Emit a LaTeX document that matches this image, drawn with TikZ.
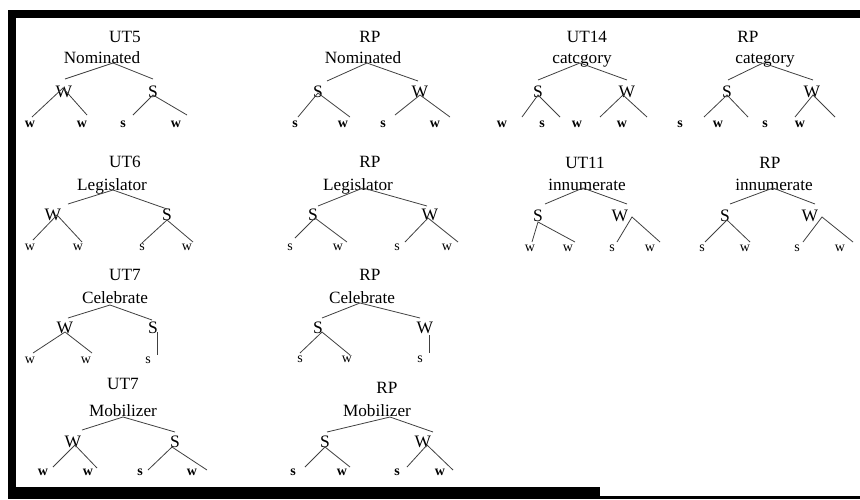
\documentclass[tikz,border=0pt]{standalone}
\usepackage{fontspec}
\setmainfont{Liberation Serif}
\newcommand\mybranch[4]{\coordinate (#1o) at (#2); \coordinate (#1l) at (#3); \coordinate (#1r) at (#4); \draw[ln] (#1l) -- (#1o) -- (#1r);}
\newcommand\mystem[3]{\coordinate (#1o) at (#2); \coordinate (#1l) at (#3); \draw[ln] (#1o) -- (#1l);}
\begin{document}
\begin{tikzpicture}[x=1pt,y=-1pt,
  ttl/.style={font=\fontsize{17.2}{19}\selectfont, anchor=base, inner sep=0pt},
  nd/.style={font=\fontsize{17.5}{19}\selectfont, anchor=base, inner sep=0pt},
  lfb/.style={font=\fontsize{14}{15}\selectfont\bfseries, anchor=base, inner sep=0pt},
  lfr/.style={font=\fontsize{14}{15}\selectfont, anchor=base, inner sep=0pt},
  ln/.style={draw=black!75, line width=0.8pt}]
\useasboundingbox (0,0) rectangle (860,499);
% frame
\fill[black] (8,10) rectangle (860,18);
\fill[black] (8,10) rectangle (16,499);
\fill[black] (8,487) rectangle (600,499);
\fill[black] (600,496) rectangle (860,499);

% ---------- Tree 1: UT5 Nominated
\node[ttl] (t1t) at (125,42) {UT5};
\node[ttl] (t1w) at (102,63) {Nominated};
\node[nd] (t1A) at (64,97) {W};
\node[nd] (t1B) at (153,97) {S};
\node[lfb] (t1l1) at (30,127) {w};
\node[lfb] (t1l2) at (82,127) {w};
\node[lfb] (t1l3) at (123,127) {s};
\node[lfb] (t1l4) at (176,127) {w};
\mybranch{t1a}{113,63}{65,79}{153,79}
\mybranch{t1b}{63,88}{32,117}{87,115}
\mybranch{t1c}{153,95}{133,115}{187,115}

% ---------- Tree 2: RP Nominated
\node[ttl] (t2t) at (370,42) {RP};
\node[ttl] (t2w) at (363,63) {Nominated};
\node[nd] (t2A) at (318,97) {S};
\node[nd] (t2B) at (420,97) {W};
\node[lfb] (t2l1) at (295,127) {s};
\node[lfb] (t2l2) at (343,127) {w};
\node[lfb] (t2l3) at (383,127) {s};
\node[lfb] (t2l4) at (435,127) {w};
\mybranch{t2a}{367,63}{327,81}{418,81}
\mybranch{t2b}{318,93}{298,117}{350,117}
\mybranch{t2c}{420,95}{395,115}{450,117}

% ---------- Tree 3: UT14 catcgory
\node[ttl] (t3t) at (587,42) {UT14};
\node[ttl] (t3w) at (582,63) {catcgory};
\node[nd] (t3A) at (538,97) {S};
\node[nd] (t3B) at (627,97) {W};
\node[lfb] (t3l1) at (502,127) {w};
\node[lfb] (t3l2) at (542,127) {s};
\node[lfb] (t3l3) at (577,127) {w};
\node[lfb] (t3l4) at (622,127) {w};
\mybranch{t3a}{580,63}{538,80}{627,80}
\mybranch{t3b}{538,95}{522,117}{560,117}
\mybranch{t3c}{623,95}{600,117}{647,117}

% ---------- Tree 4: RP category
\node[ttl] (t4t) at (748,42) {RP};
\node[ttl] (t4w) at (765,63) {category};
\node[nd] (t4A) at (727,97) {S};
\node[nd] (t4B) at (812,97) {W};
\node[lfb] (t4l1) at (680,127) {s};
\node[lfb] (t4l2) at (718,127) {w};
\node[lfb] (t4l3) at (765,127) {s};
\node[lfb] (t4l4) at (800,127) {w};
\mybranch{t4a}{763,63}{728,80}{813,80}
\mybranch{t4b}{727,95}{704,117}{748,117}
\mybranch{t4c}{813,95}{795,117}{835,117}

% ---------- Tree 5: UT6 Legislator
\node[ttl] (t5t) at (125,167) {UT6};
\node[ttl] (t5w) at (112,190) {Legislator};
\node[nd] (t5A) at (53,220) {W};
\node[nd] (t5B) at (167,220) {S};
\node[lfr] (t5l1) at (30,250) {w};
\node[lfr] (t5l2) at (78,250) {w};
\node[lfr] (t5l3) at (142,250) {s};
\node[lfr] (t5l4) at (187,250) {w};
\mybranch{t5a}{113,190}{68,204}{167,209}
\mybranch{t5b}{57,215}{33,240}{82,242}
\mybranch{t5c}{167,220}{142,243}{193,242}

% ---------- Tree 6: RP Legislator
\node[ttl] (t6t) at (370,167) {RP};
\node[ttl] (t6w) at (358,190) {Legislator};
\node[nd] (t6A) at (313,220) {S};
\node[nd] (t6B) at (430,220) {W};
\node[lfr] (t6l1) at (290,250) {s};
\node[lfr] (t6l2) at (338,250) {w};
\node[lfr] (t6l3) at (397,250) {s};
\node[lfr] (t6l4) at (447,250) {w};
\mybranch{t6a}{363,188}{318,206}{427,206}
\mybranch{t6b}{315,218}{295,238}{347,242}
\mybranch{t6c}{428,218}{405,242}{458,242}

% ---------- Tree 7: UT11 innumerate
\node[ttl] (t7t) at (585,168) {UT11};
\node[ttl] (t7w) at (587,190) {innumerate};
\node[nd] (t7A) at (538,221) {S};
\node[nd] (t7B) at (620,221) {W};
\node[lfr] (t7l1) at (530,251) {w};
\node[lfr] (t7l2) at (568,251) {w};
\node[lfr] (t7l3) at (612,251) {s};
\node[lfr] (t7l4) at (650,251) {w};
\mybranch{t7a}{583,188}{545,204}{627,204}
\mybranch{t7b}{538,222}{532,242}{575,242}
\mybranch{t7c}{632,217}{617,242}{660,242}

% ---------- Tree 8: RP innumerate
\node[ttl] (t8t) at (770,168) {RP};
\node[ttl] (t8w) at (774,190) {innumerate};
\node[nd] (t8A) at (725,221) {S};
\node[nd] (t8B) at (810,221) {W};
\node[lfr] (t8l1) at (702,251) {s};
\node[lfr] (t8l2) at (745,251) {w};
\node[lfr] (t8l3) at (797,251) {s};
\node[lfr] (t8l4) at (840,251) {w};
\mybranch{t8a}{773,188}{730,204}{815,204}
\mybranch{t8b}{727,220}{705,242}{750,242}
\mybranch{t8c}{822,217}{803,242}{853,242}

% ---------- Tree 9: UT7 Celebrate
\node[ttl] (t9t) at (125,280) {UT7};
\node[ttl] (t9w) at (115,303) {Celebrate};
\node[nd] (t9A) at (65,333) {W};
\node[nd] (t9B) at (153,333) {S};
\node[lfr] (t9l1) at (30,363) {w};
\node[lfr] (t9l2) at (86,363) {w};
\node[lfr] (t9l3) at (148,363) {s};
\mybranch{t9a}{110,305}{68,318}{152,320}
\mybranch{t9b}{65,332}{33,353}{92,353}
\mystem{t9c}{157,332}{157,355}

% ---------- Tree 10: RP Celebrate
\node[ttl] (t10t) at (370,280) {RP};
\node[ttl] (t10w) at (362,303) {Celebrate};
\node[nd] (t10A) at (318,333) {S};
\node[nd] (t10B) at (425,333) {W};
\node[lfr] (t10l1) at (300,362) {s};
\node[lfr] (t10l2) at (347,362) {w};
\node[lfr] (t10l3) at (420,362) {s};
\mybranch{t10a}{360,303}{322,318}{420,318}
\mybranch{t10b}{322,332}{300,353}{350,355}
\mystem{t10c}{429,335}{429,353}

% ---------- Tree 11: UT7 Mobilizer
\node[ttl] (t11t) at (123,389) {UT7};
\node[ttl] (t11w) at (123,416) {Mobilizer};
\node[nd] (t11A) at (73,447) {W};
\node[nd] (t11B) at (175,447) {S};
\node[lfb] (t11l1) at (43,475) {w};
\node[lfb] (t11l2) at (88,475) {w};
\node[lfb] (t11l3) at (140,475) {s};
\node[lfb] (t11l4) at (192,475) {w};
\mybranch{t11a}{123,417}{82,430}{175,432}
\mybranch{t11b}{75,445}{53,467}{97,468}
\mybranch{t11c}{172,447}{148,470}{207,470}

% ---------- Tree 12: RP Mobilizer
\node[ttl] (t12t) at (387,393) {RP};
\node[ttl] (t12w) at (377,416) {Mobilizer};
\node[nd] (t12A) at (325,447) {S};
\node[nd] (t12B) at (423,447) {W};
\node[lfb] (t12l1) at (293,475) {s};
\node[lfb] (t12l2) at (342,475) {w};
\node[lfb] (t12l3) at (397,475) {s};
\node[lfb] (t12l4) at (440,475) {w};
\mybranch{t12a}{390,417}{327,432}{433,432}
\mybranch{t12b}{325,447}{305,467}{350,467}
\mybranch{t12c}{427,445}{407,467}{453,470}
\end{tikzpicture}
\end{document}
